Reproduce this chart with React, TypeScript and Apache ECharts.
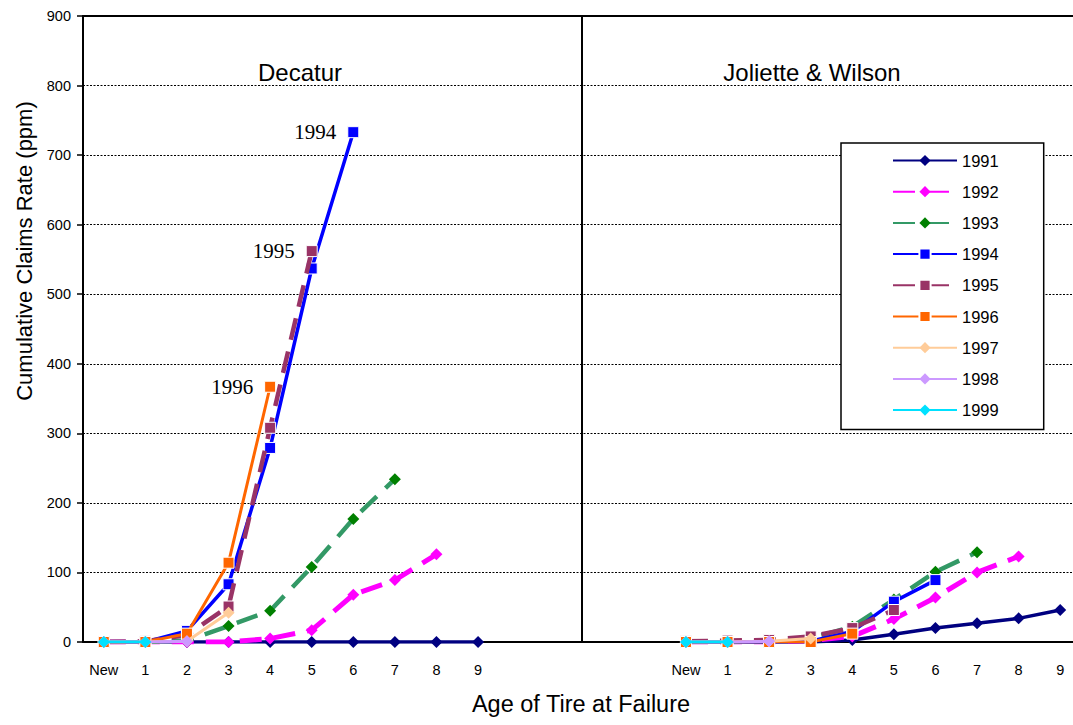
import React, { useEffect, useRef } from "react";
import * as echarts from "echarts";

const ageLabels = ["New", "1", "2", "3", "4", "5", "6", "7", "8", "9"];
const gapLabels = ["", "", "", ""];
const categories = [...ageLabels, ...gapLabels, ...ageLabels];

const years = ["1991", "1992", "1993", "1994", "1995", "1996", "1997", "1998", "1999"];

// Decatur (left panel), values by age New..9 (ppm)
const decatur1991 = [0, 0, 0, 0, 0, 0, 0, 0, 0, 0];
const decatur1992 = [0, 0, 0, 0, 5, 17, 68, 89, 126];
const decatur1993 = [0, 0, 2, 23, 45, 108, 177, 234];
const decatur1994 = [0, 0, 16, 83, 279, 537, 733];
const decatur1995 = [0, 1, 10, 51, 308, 562];
const decatur1996 = [0, 0, 12, 114, 367];
const decatur1997 = [0, 0, 1, 42];
const decatur1998 = [0, 0, 1];
const decatur1999 = [0, 0];

// Joliette & Wilson (right panel)
const jw1991 = [0, 0, 0, 0, 3, 11, 20, 27, 34, 46];
const jw1992 = [0, 0, 0, 2, 8, 33, 64, 100, 123];
const jw1993 = [0, 0, 1, 5, 22, 61, 101, 129];
const jw1994 = [0, 0, 0, 1, 15, 58, 89];
const jw1995 = [1, 2, 3, 8, 20, 46];
const jw1996 = [0, 0, 0, 0, 12];
const jw1997 = [0, 0, 1, 5];
const jw1998 = [0, 0, 1];
const jw1999 = [0, 0];

const leftData = [decatur1991, decatur1992, decatur1993, decatur1994, decatur1995, decatur1996, decatur1997, decatur1998, decatur1999];
const rightData = [jw1991, jw1992, jw1993, jw1994, jw1995, jw1996, jw1997, jw1998, jw1999];

// annotated points in the Decatur panel: year -> age index
const annotations: Record<string, number> = { "1994": 6, "1995": 5, "1996": 4 };

const lineColors = ["#000080", "#FF00FF", "#339966", "#0000FF", "#993366", "#FF6600", "#FFCC99", "#CC99FF", "#00E1FF"];
const markerColors = ["#000080", "#FF00FF", "#008000", "#0000FF", "#993366", "#FF6600", "#FFCC99", "#CC99FF", "#00E1FF"];
const symbols = ["diamond", "diamond", "diamond", "rect", "rect", "rect", "diamond", "diamond", "diamond"];
const dashed = [false, true, true, false, true, false, false, false, false];
const widths = [3.5, 5, 4.5, 3.5, 4.5, 3, 3, 3, 3];

const SANS = "'Liberation Sans', Arial, sans-serif";
const SERIF = "'Liberation Serif', 'Times New Roman', serif";

function buildSeries() {
  const series: any[] = [];
  years.forEach((yr, i) => {
    const mk = (vals: number[], offset: number, annotate: boolean) => {
      const data: any[] = categories.map(() => null);
      vals.forEach((v, k) => {
        if (annotate && annotations[yr] === k) {
          data[offset + k] = {
            value: v,
            label: {
              show: true,
              position: "left",
              distance: 11,
              formatter: yr,
              fontFamily: SERIF,
              fontSize: 21,
              color: "#000",
            },
          };
        } else {
          data[offset + k] = v;
        }
      });
      return {
        name: yr,
        type: "line",
        xAxisIndex: 0,
        yAxisIndex: 0,
        data,
        symbol: symbols[i],
        symbolSize: symbols[i] === "rect" ? 11 : 12,
        showAllSymbol: true,
        connectNulls: false,
        lineStyle: {
          color: lineColors[i],
          width: widths[i],
          type: dashed[i] ? [22, 12] : "solid",
        },
        itemStyle: {
          color: markerColors[i],
          borderColor: symbols[i] === "rect" ? "#ffffff" : markerColors[i],
          borderWidth: symbols[i] === "rect" ? 1 : 0,
        },
        emphasis: { disabled: true },
        z: 3 + i,
      };
    };
    series.push(mk(leftData[i], 0, true));
    series.push(mk(rightData[i], 14, false));
  });
  series.push({
    name: "divider",
    type: "line",
    xAxisIndex: 1,
    yAxisIndex: 0,
    data: [
      [11.5, 0],
      [11.5, 900],
    ],
    symbol: "none",
    lineStyle: { color: "#000", width: 2 },
    silent: true,
    z: 2,
  });
  return series;
}

export default function App() {
  const ref = useRef<HTMLDivElement>(null);
  useEffect(() => {
    if (!ref.current) return;
    const chart = echarts.init(ref.current, undefined, { renderer: "svg" });
    chart.setOption({
      animation: false,
      backgroundColor: "#ffffff",
      textStyle: { fontFamily: SANS },
      grid: { left: 83, top: 16, width: 998, height: 626, containLabel: false },
      xAxis: [
        {
          type: "category",
          data: categories,
          position: "bottom",
          boundaryGap: true,
          axisLine: { show: true, onZero: false, lineStyle: { color: "#000", width: 2 } },
          axisTick: { show: false },
          axisLabel: { interval: 0, color: "#000", fontSize: 14.5, fontFamily: SANS, margin: 20 },
          splitLine: { show: false },
        },
        {
          type: "value",
          position: "top",
          min: -0.5,
          max: 23.5,
          axisLine: { show: true, onZero: false, lineStyle: { color: "#000", width: 2 } },
          axisTick: { show: false },
          axisLabel: { show: false },
          splitLine: { show: false },
        },
      ],
      yAxis: {
        type: "value",
        position: "left",
        min: 0,
        max: 900,
        interval: 100,
        axisLine: { show: true, onZero: false, lineStyle: { color: "#000", width: 2 } },
        axisTick: { show: true, inside: false, length: 6, lineStyle: { color: "#000", width: 1.5 } },
        axisLabel: { color: "#000", fontSize: 14.5, fontFamily: SANS, margin: 12 },
        splitLine: { show: true, lineStyle: { color: "#000", width: 1, type: [2, 1.5] } },
      },
      legend: {
        data: years,
        orient: "vertical",
        left: 841,
        top: 143,
        padding: [9, 45, 11, 51],
        itemWidth: 64,
        itemHeight: 14,
        itemGap: 14.2,
        backgroundColor: "#ffffff",
        borderColor: "#000",
        borderWidth: 1.5,
        textStyle: { fontSize: 16.5, fontFamily: SANS, color: "#000" },
        selectedMode: false,
      },
      graphic: [
        {
          type: "text",
          x: 300,
          y: 72,
          style: { text: "Decatur", fontSize: 24, fontFamily: SANS, fill: "#000", align: "center", verticalAlign: "middle" },
        },
        {
          type: "text",
          x: 812,
          y: 72,
          style: { text: "Joliette & Wilson", fontSize: 24, fontFamily: SANS, fill: "#000", align: "center", verticalAlign: "middle" },
        },
        {
          type: "text",
          x: 581,
          y: 704,
          style: { text: "Age of Tire at Failure", fontSize: 23.5, fontFamily: SANS, fill: "#000", align: "center", verticalAlign: "middle" },
        },
        {
          type: "text",
          x: 24,
          y: 251,
          rotation: Math.PI / 2,
          style: { text: "Cumulative Claims Rate (ppm)", fontSize: 22, fontFamily: SANS, fill: "#000", align: "center", verticalAlign: "middle" },
        },
      ],
      series: buildSeries(),
    });
    return () => chart.dispose();
  }, []);
  return (
    <div style={{ position: "absolute", left: 0, top: 0, width: 1073, height: 725, overflow: "hidden", background: "#fff" }}>
      <div ref={ref} style={{ width: 1095, height: 725 }} />
    </div>
  );
}
